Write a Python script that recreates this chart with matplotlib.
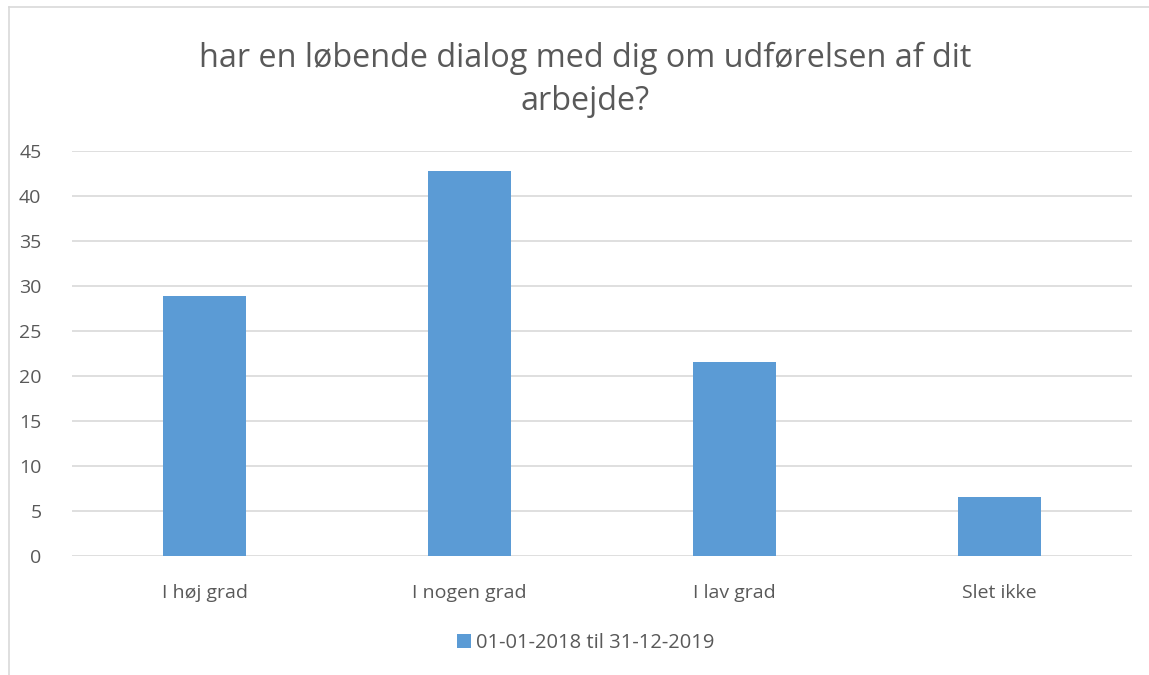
import matplotlib.pyplot as plt
from matplotlib.lines import Line2D

kategorier = ["I høj grad", "I nogen grad", "I lav grad", "Slet ikke"]
vaerdier = [28.9, 42.8, 21.6, 6.6]
serie_navn = "01-01-2018 til 31-12-2019"
titel = "har en løbende dialog med dig om udførelsen af dit\narbejde?"

plt.rcParams['font.family'] = ['Open Sans', 'DejaVu Sans']
tekst = '#595959'

fig = plt.figure(figsize=(11.49, 6.75), dpi=100)
ax = fig.add_axes([0.0627, 0.1763, 0.9225, 0.6000])

x = range(len(kategorier))
ax.bar(x, vaerdier, width=0.31, color='#5B9BD5', label=serie_navn, zorder=3)

ax.set_xlim(-0.5, len(kategorier) - 0.5)
ax.set_ylim(0, 45)
ax.set_yticks(range(0, 46, 5))
ax.set_xticks(list(x))
ax.set_xticklabels(kategorier)
ax.tick_params(length=0, labelsize=14, colors=tekst)
ax.tick_params(axis='x', pad=20)
ax.tick_params(axis='y', pad=22)
ax.grid(axis='y', color='#D9D9D9', linewidth=1.2, zorder=0)
for s in ax.spines.values():
    s.set_visible(False)

fig.text(0.509, 0.882, titel, ha='center', va='center', fontsize=23.3,
         color=tekst, linespacing=1.42)

fig.legend(loc='center', bbox_to_anchor=(0.51, 0.048), frameon=False,
           fontsize=14.5, labelcolor=tekst, handlelength=0.7, handleheight=0.7,
           handletextpad=0.25)

# tynd ramme foroven og til venstre
fig.add_artist(Line2D([0.0075, 1.0], [0.9896, 0.9896], color='#D9D9D9', linewidth=1.2))
fig.add_artist(Line2D([0.0075, 0.0075], [0.0, 0.9896], color='#D9D9D9', linewidth=1.2))

fig.savefig('out.png', dpi=100)
